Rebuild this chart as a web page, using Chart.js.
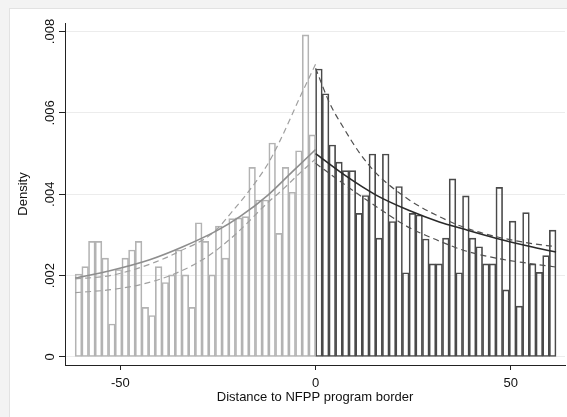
<!DOCTYPE html>
<html><head><meta charset="utf-8">
<script src="https://cdn.jsdelivr.net/npm/chart.js@4.4.1/dist/chart.umd.min.js"></script>
<style>html,body{margin:0;padding:0;background:#fff;}canvas{display:block}</style>
</head><body>
<canvas id="c" width="567" height="417"></canvas>
<script>
// ---- data ----
const leftBinCenters = [-60.744,-59.033,-57.322,-55.611,-53.900,-52.189,-50.478,-48.767,-47.056,-45.344,-43.633,-41.922,-40.211,-38.500,-36.789,-35.078,-33.367,-31.656,-29.944,-28.233,-26.522,-24.811,-23.100,-21.389,-19.678,-17.967,-16.256,-14.544,-12.833,-11.122,-9.411,-7.700,-5.989,-4.278,-2.567,-0.856];
const leftDensity = [0.00204,0.00222,0.00284,0.00284,0.00243,0.00081,0.00215,0.00243,0.00263,0.00284,0.00122,0.00102,0.00222,0.00183,0.00202,0.00263,0.00202,0.00122,0.00330,0.00284,0.00202,0.00322,0.00243,0.00340,0.00342,0.00345,0.00466,0.00386,0.00386,0.00526,0.00304,0.00466,0.00405,0.00507,0.00792,0.00546];
const rightBinCenters = [0.856,2.567,4.278,5.989,7.700,9.411,11.122,12.833,14.544,16.256,17.967,19.678,21.389,23.100,24.811,26.522,28.233,29.944,31.656,33.367,35.078,36.789,38.500,40.211,41.922,43.633,45.344,47.056,48.767,50.478,52.189,53.900,55.611,57.322,59.033,60.744];
const rightDensity = [0.00708,0.00647,0.00521,0.00479,0.00458,0.00458,0.00353,0.00397,0.00499,0.00292,0.00499,0.00333,0.00419,0.00207,0.00353,0.00349,0.00290,0.00229,0.00229,0.00292,0.00438,0.00207,0.00396,0.00292,0.00271,0.00229,0.00229,0.00417,0.00165,0.00334,0.00125,0.00355,0.00229,0.00208,0.00249,0.00312];

const leftFitX   = [-61.6,-52.7,-42.5,-34.0,-25.4,-19.4,-12.2,-6.0,0];
const leftFitY   = [0.00194,0.00212,0.00239,0.00271,0.00310,0.00345,0.00398,0.00455,0.00510];
const leftUpX    = [-61.6,-52.7,-42.5,-34.8,-26.3,-20.7,-17.7,-12.2,-9.2,-3.7,0];
const leftUpY    = [0.00192,0.00200,0.00228,0.00260,0.00305,0.00365,0.00400,0.00475,0.00530,0.00645,0.00720];
const leftLoX    = [-61.6,-52.0,-44.0,-36.0,-28.0,-20.7,-12.2,-9.2,-3.7,0];
const leftLoY    = [0.00158,0.00166,0.00180,0.00205,0.00245,0.00300,0.00380,0.00405,0.00455,0.00487];
const rightFitX  = [0,7.0,15.5,24.0,31.7,37.7,46.2,54.7,61.6];
const rightFitY  = [0.00500,0.00450,0.00398,0.00360,0.00332,0.00315,0.00292,0.00272,0.00258];
const rightUpX   = [0,3.6,7.0,11.3,15.5,24.0,31.7,37.7,46.2,54.7,61.6];
const rightUpY   = [0.00710,0.00624,0.00566,0.00501,0.00452,0.00386,0.00345,0.00320,0.00296,0.00280,0.00271];
const rightLoX   = [0,7.0,15.5,24.0,29.2,31.7,37.7,46.2,54.7,61.6];
const rightLoY   = [0.00476,0.00427,0.00370,0.00318,0.00295,0.00285,0.00263,0.00243,0.00230,0.00221];

const xTicks = [-50, 0, 50];
const yTicks = [0, 0.002, 0.004, 0.006, 0.008];
const yTickLabels = ['0', '.002', '.004', '.006', '.008'];
const xTitle = 'Distance to NFPP program border';
const yTitle = 'Density';

// ---- build ----
const pts = (xs, ys) => xs.map((x, i) => ({x, y: ys[i]}));
const FONT = '"Liberation Sans", Arial, Helvetica, sans-serif';

const bgPlugin = {
  id: 'bg',
  beforeDraw(chart) {
    const ctx = chart.ctx, W = chart.width, H = chart.height;
    ctx.save();
    ctx.fillStyle = '#f3f3f3';
    ctx.fillRect(0, 0, W, H);
    ctx.fillStyle = '#ffffff';
    ctx.fillRect(9, 8, W, H);
    ctx.strokeStyle = '#e2e2e2';
    ctx.lineWidth = 1;
    ctx.strokeRect(9.5, 8.5, W, H);
    ctx.restore();
  }
};

const barCommon = {type: 'bar', grouped: false, barPercentage: 1, categoryPercentage: 1,
  backgroundColor: 'rgba(255,255,255,0)', borderWidth: 1, borderSkipped: false, order: 2};
const lineCommon = {type: 'line', pointRadius: 0, fill: false, cubicInterpolationMode: 'monotone', order: 1};

new Chart(document.getElementById('c'), {
  type: 'bar',
  data: {
    datasets: [
      {...lineCommon, data: pts(rightFitX, rightFitY), borderColor: '#2a2a2a', borderWidth: 1.6},
      {...lineCommon, data: pts(rightUpX, rightUpY), borderColor: '#505050', borderWidth: 1.2, borderDash: [6, 4]},
      {...lineCommon, data: pts(rightLoX, rightLoY), borderColor: '#505050', borderWidth: 1.2, borderDash: [6, 4]},
      {...lineCommon, data: pts(leftFitX, leftFitY), borderColor: '#8e8e8e', borderWidth: 1.6},
      {...lineCommon, data: pts(leftUpX, leftUpY), borderColor: '#a0a0a0', borderWidth: 1.2, borderDash: [6, 4]},
      {...lineCommon, data: pts(leftLoX, leftLoY), borderColor: '#a0a0a0', borderWidth: 1.2, borderDash: [6, 4]},
      {...barCommon, data: pts(leftBinCenters, leftDensity), borderColor: '#b3b3b3'},
      {...barCommon, data: pts(rightBinCenters, rightDensity), borderColor: '#4a4a4a'}
    ]
  },
  options: {
    responsive: false,
    animation: false,
    devicePixelRatio: 1,
    layout: {padding: {left: 10, top: 23, right: 2, bottom: 10}},
    plugins: {legend: {display: false}, tooltip: {enabled: false}},
    scales: {
      x: {
        type: 'linear', min: -64.2, max: 63.9, offset: false,
        afterBuildTicks: s => { s.ticks = xTicks.map(v => ({value: v})); },
        afterFit: s => { s.height = 42; },
        grid: {offset: false, drawOnChartArea: false, drawTicks: true, tickLength: 5, tickColor: '#222', tickWidth: 1},
        border: {display: true, color: '#222', width: 1},
        ticks: {color: '#111', font: {family: FONT, size: 13}, padding: 6, maxRotation: 0,
          callback: v => String(v)},
        title: {display: true, text: xTitle, color: '#111', font: {family: FONT, size: 13}, padding: {top: 0, bottom: 2}}
      },
      y: {
        type: 'linear', min: -0.000197, max: 0.00821,
        afterBuildTicks: s => { s.ticks = yTicks.map(v => ({value: v})); },
        afterFit: s => { s.width = 55; },
        grid: {color: '#ececec', lineWidth: 1, drawTicks: true, tickLength: 6, tickColor: '#222', tickWidth: 1},
        border: {display: true, color: '#222', width: 1},
        ticks: {color: '#111', font: {family: FONT, size: 13}, padding: -4, minRotation: 90, maxRotation: 90,
          crossAlign: 'center',
          callback: (v) => { const k = yTicks.indexOf(v); return k >= 0 ? yTickLabels[k] : ''; }},
        title: {display: true, text: yTitle, color: '#111', font: {family: FONT, size: 13}, padding: {top: 6, bottom: 0}}
      }
    }
  },
  plugins: [bgPlugin]
});
</script>
</body></html>
